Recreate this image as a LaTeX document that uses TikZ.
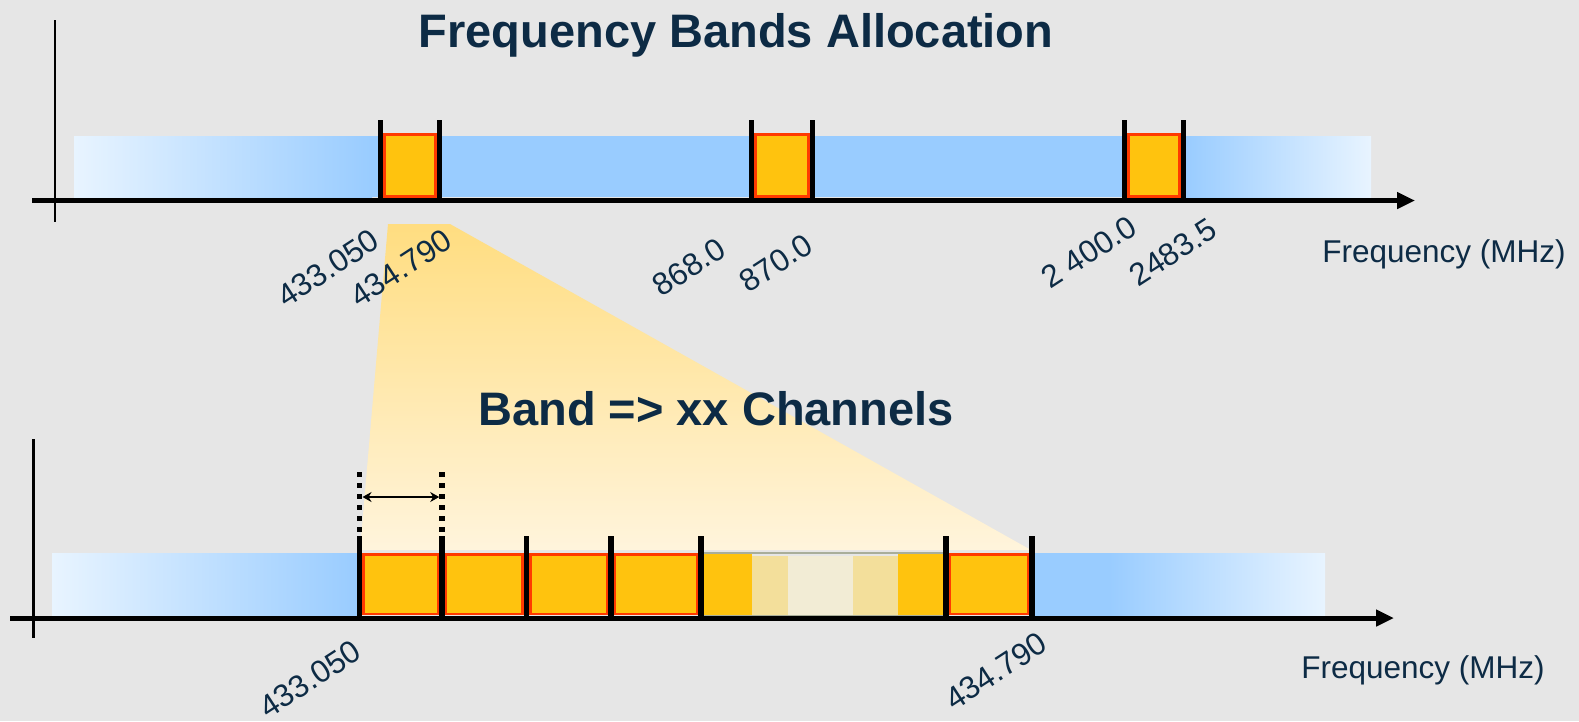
\documentclass[tikz,border=0pt]{standalone}
\usepackage{fontspec}
\setmainfont{Liberation Sans}
\usetikzlibrary{arrows.meta,positioning}
\definecolor{bggray}{HTML}{E6E6E6}
\definecolor{navy}{HTML}{0D2B45}
\definecolor{bandblue}{HTML}{99CCFF}
\definecolor{bandlight}{HTML}{E8F4FF}
\definecolor{chorange}{HTML}{FFC30E}
\definecolor{chred}{HTML}{FF3A00}
\definecolor{fadeA}{HTML}{F3DF9B}
\definecolor{fadeB}{HTML}{F2ECD5}
\definecolor{fadeline}{HTML}{A9AE9A}
\definecolor{zoomtop}{HTML}{FFDD80}
\definecolor{zoombot}{HTML}{FFF4DC}

\begin{document}
\begin{tikzpicture}[x=1pt,y=-1pt,
    lbl/.style={text=navy,font=\fontsize{31.5}{34}\selectfont,inner sep=0pt},
    tick/.style={lbl,rotate=33},
    head/.style={text=navy,font=\bfseries\fontsize{47}{50}\selectfont,inner sep=0pt},
    chan/.style={draw=chred,line width=2.5pt,fill=chorange},
    bar/.style={line width=5.5pt},
    axis/.style={line width=5pt,-{Triangle[length=18pt,width=16pt]}},
    yaxis/.style={line width=2.5pt}]
    \fill[bggray] (0,0) rectangle (1579,721);
    \useasboundingbox (0,0) rectangle (1579,721);

    \shade[top color=zoomtop,bottom color=zoombot] (388,224) -- (450,224) -- (1031,550) -- (360,550) -- cycle;

    \shade[left color=bandlight,right color=bandblue] (74,136) rectangle (372,197);
    \fill[bandblue] (371,136) rectangle (1186,197);
    \shade[left color=bandblue,right color=bandlight] (1185,136) rectangle (1371,197);
    \foreach \a/\b in {380.5/439.5, 751.5/812.7, 1124.5/1183.3} {
        \filldraw[chan] (\a+4,134.7) rectangle (\b-4,196.5);
        \draw[bar] (\a,120) -- (\a,200);
        \draw[bar] (\b,120) -- (\b,200);
    }
    \coordinate (tx0) at (32,200.5);
    \coordinate (tx1) at (1415,200.5);
    \coordinate (ty0) at (55,20);
    \coordinate (ty1) at (55,222);
    \draw[axis] (tx0) -- (tx1);
    \draw[yaxis] (ty0) -- (ty1);

    \node[head,anchor=base] (title1) at (736,47) {Frequency Bands Allocation};
    \node[tick] (t433) at (328,268) {433.050};
    \node[tick] (t434) at (401,268) {434.790};
    \node[tick] (t868) at (689,267) {868.0};
    \node[tick] (t870) at (776,263) {870.0};
    \node[tick] (t2400) at (1089,252) {2 400.0};
    \node[tick] (t2483) at (1173,252) {2483.5};
    \node[lbl,anchor=base] (freq1) at (1444,262) {Frequency (MHz)};

    \node[head,anchor=base] (title2) at (716,425) {Band => xx Channels};

    \shade[left color=bandlight,right color=bandblue] (52,553) rectangle (358,616);
    \fill[bandblue] (1030,553) rectangle (1110,616);
    \shade[left color=bandblue,right color=bandlight] (1109,553) rectangle (1325,616);
    \foreach \a/\b in {359.7/442, 442/526.5, 526.5/611, 611/701, 946/1032}
        \filldraw[chan] (\a+4,554.5) rectangle (\b-4,614);
    \fill[chorange] (703,553) rectangle (752,616);
    \fill[fadeA] (752,556) rectangle (788,616);
    \fill[fadeB] (788,556) rectangle (853,616);
    \fill[fadeA] (853,556) rectangle (898,616);
    \fill[chorange] (898,553) rectangle (944,616);
    \draw[fadeline,line width=2pt] (703,553) rectangle (944,616);
    \foreach \x in {359.7,442,526.5,611,701,946,1032}
        \draw[bar] (\x,536) -- (\x,618);
    \foreach \x in {359.7,442}
        \draw[bar,dash pattern=on 4.5pt off 6.5pt] (\x,472) -- (\x,536);
    \coordinate (chL) at (362.5,497);
    \coordinate (chR) at (439.2,497);
    \draw[line width=1.5pt,{Stealth[length=9pt,width=10pt]}-{Stealth[length=9pt,width=10pt]}] (chL) -- (chR);

    \coordinate (bx0) at (10,618);
    \coordinate (bx1) at (1394,618);
    \coordinate (by0) at (33.5,439);
    \coordinate (by1) at (33.5,638);
    \draw[axis] (bx0) -- (bx1);
    \draw[yaxis] (by0) -- (by1);

    \node[tick] (b433) at (310,679) {433.050};
    \node[tick] (b434) at (996,671) {434.790};
    \node[lbl,anchor=base] (freq2) at (1423,678) {Frequency (MHz)};
\end{tikzpicture}
\end{document}
